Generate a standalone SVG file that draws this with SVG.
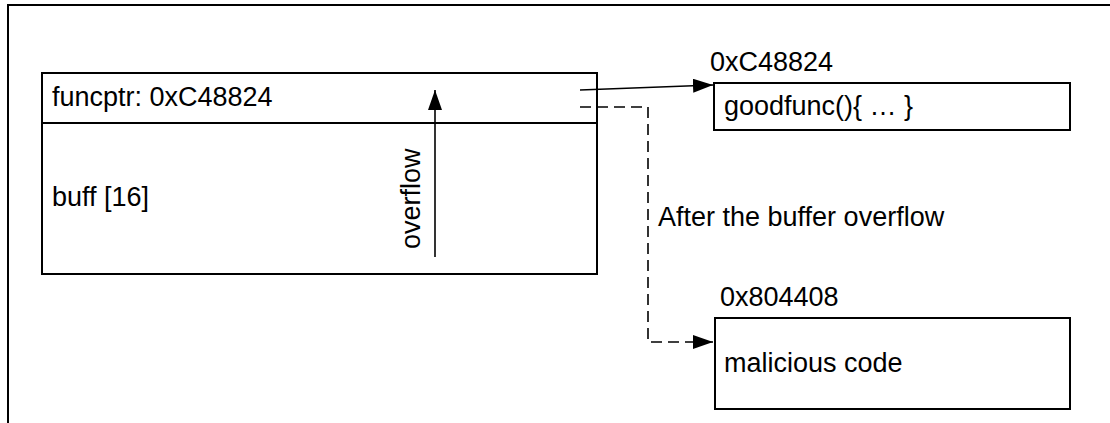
<svg xmlns="http://www.w3.org/2000/svg" width="1110" height="423" viewBox="0 0 1110 423">
<defs>
<style>
.t{font-family:"Liberation Sans",Arial,sans-serif;font-size:27px;fill:#000}
.box{fill:#fff;stroke:#000;stroke-width:2}
.ln{fill:none;stroke:#000;stroke-width:1.6}
.dash{stroke-dasharray:11,6}
</style>
<marker id="ah" markerWidth="20" markerHeight="14" refX="20" refY="7" orient="auto" markerUnits="userSpaceOnUse">
<path d="M0,0 L20,7 L0,14 z" fill="#000"/>
</marker>
</defs>
<rect width="1110" height="423" fill="#fff"/>
<g id="frame">
<path d="M8,423 L8,5 L1110,5" fill="none" stroke="#000" stroke-width="2"/>
</g>
<g id="stack">
<rect class="box" x="42" y="73" width="555" height="201"/>
<line x1="42" y1="123" x2="597" y2="123" stroke="#000" stroke-width="2"/>
<text class="t" x="52" y="106">funcptr: 0xC48824</text>
<text class="t" x="52" y="206">buff [16]</text>
</g>
<g id="goodfunc">
<text class="t" x="710" y="71">0xC48824</text>
<rect class="box" x="714" y="83" width="356" height="47"/>
<text class="t" x="724" y="115">goodfunc(){ … }</text>
</g>
<g id="malicious">
<text class="t" x="720" y="306">0x804408</text>
<rect class="box" x="715" y="318" width="355" height="91"/>
<text class="t" x="724" y="372">malicious code</text>
</g>
<g id="connectors">
<line class="ln" x1="435" y1="257" x2="435" y2="90" marker-end="url(#ah)"/>
<text class="t" transform="translate(420,249) rotate(-90)">overflow</text>
<line class="ln" x1="580" y1="90" x2="713" y2="85" marker-end="url(#ah)"/>
<path class="ln dash" d="M580,107 L648,107 L648,342 L713,342" marker-end="url(#ah)"/>
<text class="t" x="658" y="226">After the buffer overflow</text>
</g>
</svg>
